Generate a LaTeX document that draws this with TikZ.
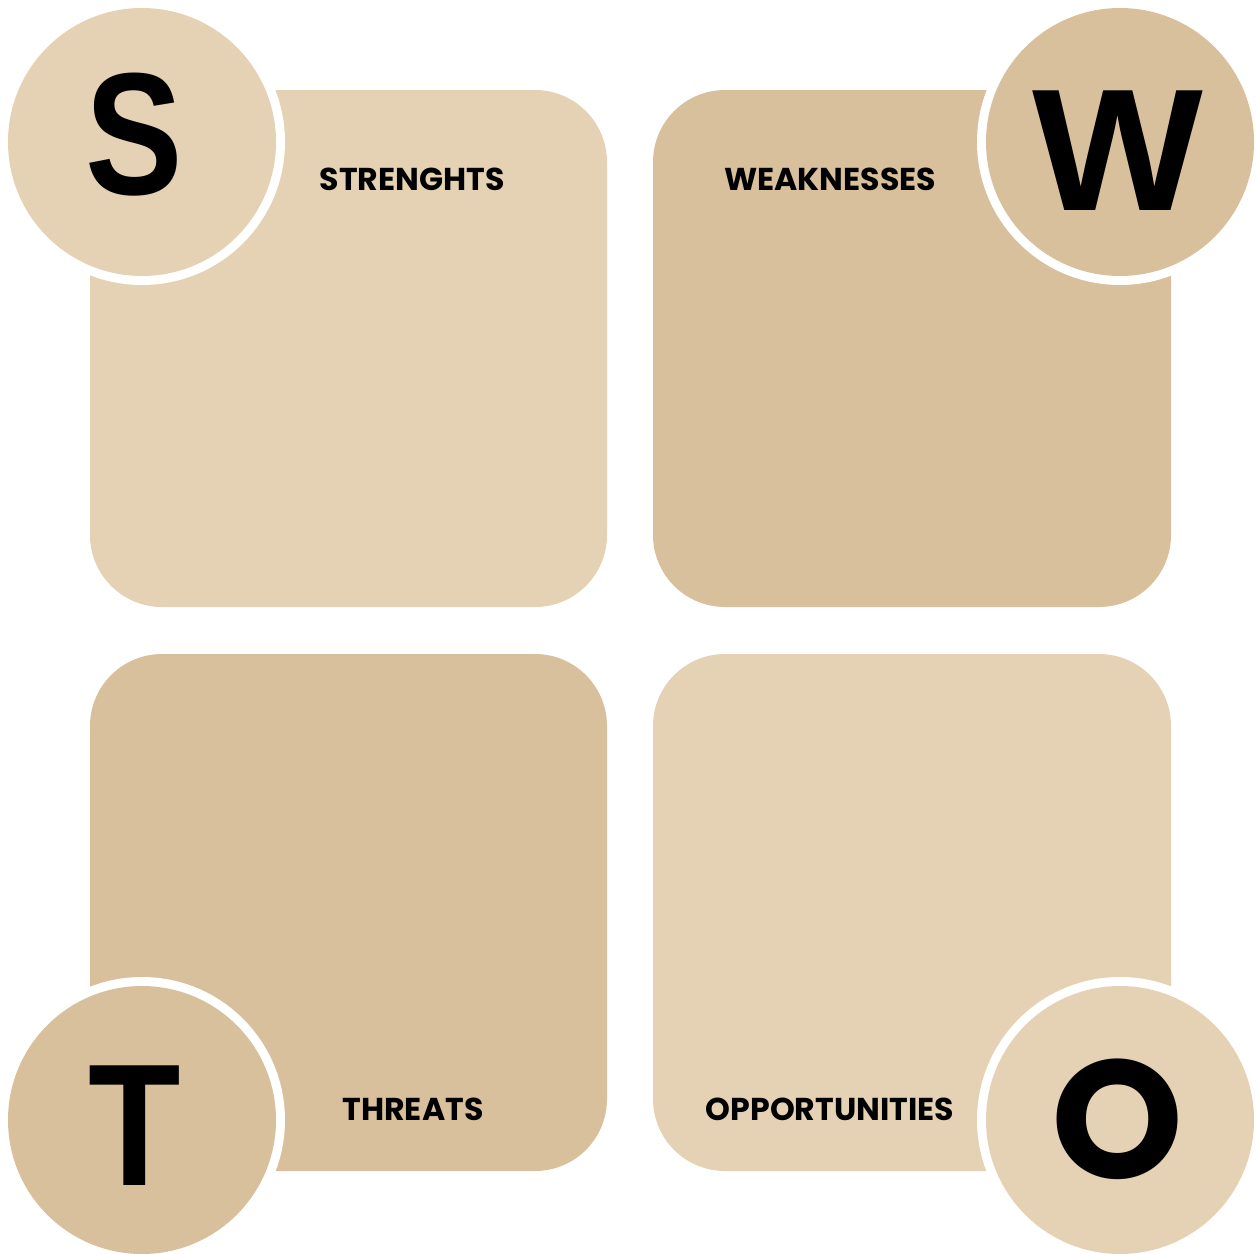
\documentclass[tikz,border=0pt]{standalone}
\usepackage{fontspec}
\setmainfont{Poppins}
\newfontfamily\bigletter{Liberation Sans}
\definecolor{swlight}{HTML}{E5D2B4}
\definecolor{swdark}{HTML}{D9C09C}
\begin{document}
\begin{tikzpicture}[x=0.5pt,y=-0.5pt,
  quad/.style={rounded corners=36pt},
  ring/.style={fill=white,minimum size=143pt,circle,inner sep=0pt},
  disc/.style={circle,minimum size=134pt,inner sep=0pt},
  biglet/.style={font=\bigletter\fontsize{87}{87}\selectfont\bfseries,text=black,inner sep=0pt},
  bigo/.style={font=\fontsize{84}{84}\selectfont\bfseries,text=black,inner sep=0pt},
  lbl/.style={font=\fontsize{15.8}{16}\selectfont\bfseries,text=black,inner sep=0pt}]
\useasboundingbox (0,0) rectangle (1257,1253);
% boxes
\fill[swlight,quad] (90,90) rectangle (607,607);
\fill[swdark,quad] (653,90) rectangle (1171,607);
\fill[swdark,quad] (90,654) rectangle (607,1171);
\fill[swlight,quad] (653,654) rectangle (1171,1171);
% circles
\node[ring] (rs) at (142,142) {};
\node[disc,fill=swlight] (cs) at (142,142) {};
\node[ring] (rw) at (1120,142) {};
\node[disc,fill=swdark] (cw) at (1120,142) {};
\node[ring] (rt) at (142,1120) {};
\node[disc,fill=swdark] (ct) at (142,1120) {};
\node[ring] (ro) at (1120,1120) {};
\node[disc,fill=swlight] (co) at (1120,1120) {};
% letters
\node[biglet] (ls) at (134,135) {\scalebox{0.84}[1]{S}};
\node[biglet] (lw) at (1118,151) {\scalebox{1.04}[1]{W}};
\node[biglet] (lt) at (135,1126) {\scalebox{0.87}[1]{T}};
\node[bigo] (lo) at (1118,1119) {O};
% labels
\node[lbl] (ts) at (412,179) {STRENGHTS};
\node[lbl] (tw) at (830,179) {WEAKNESSES};
\node[lbl] (tt) at (413,1109) {THREATS};
\node[lbl] (to) at (830,1109) {OPPORTUNITIES};
\end{tikzpicture}
\end{document}
